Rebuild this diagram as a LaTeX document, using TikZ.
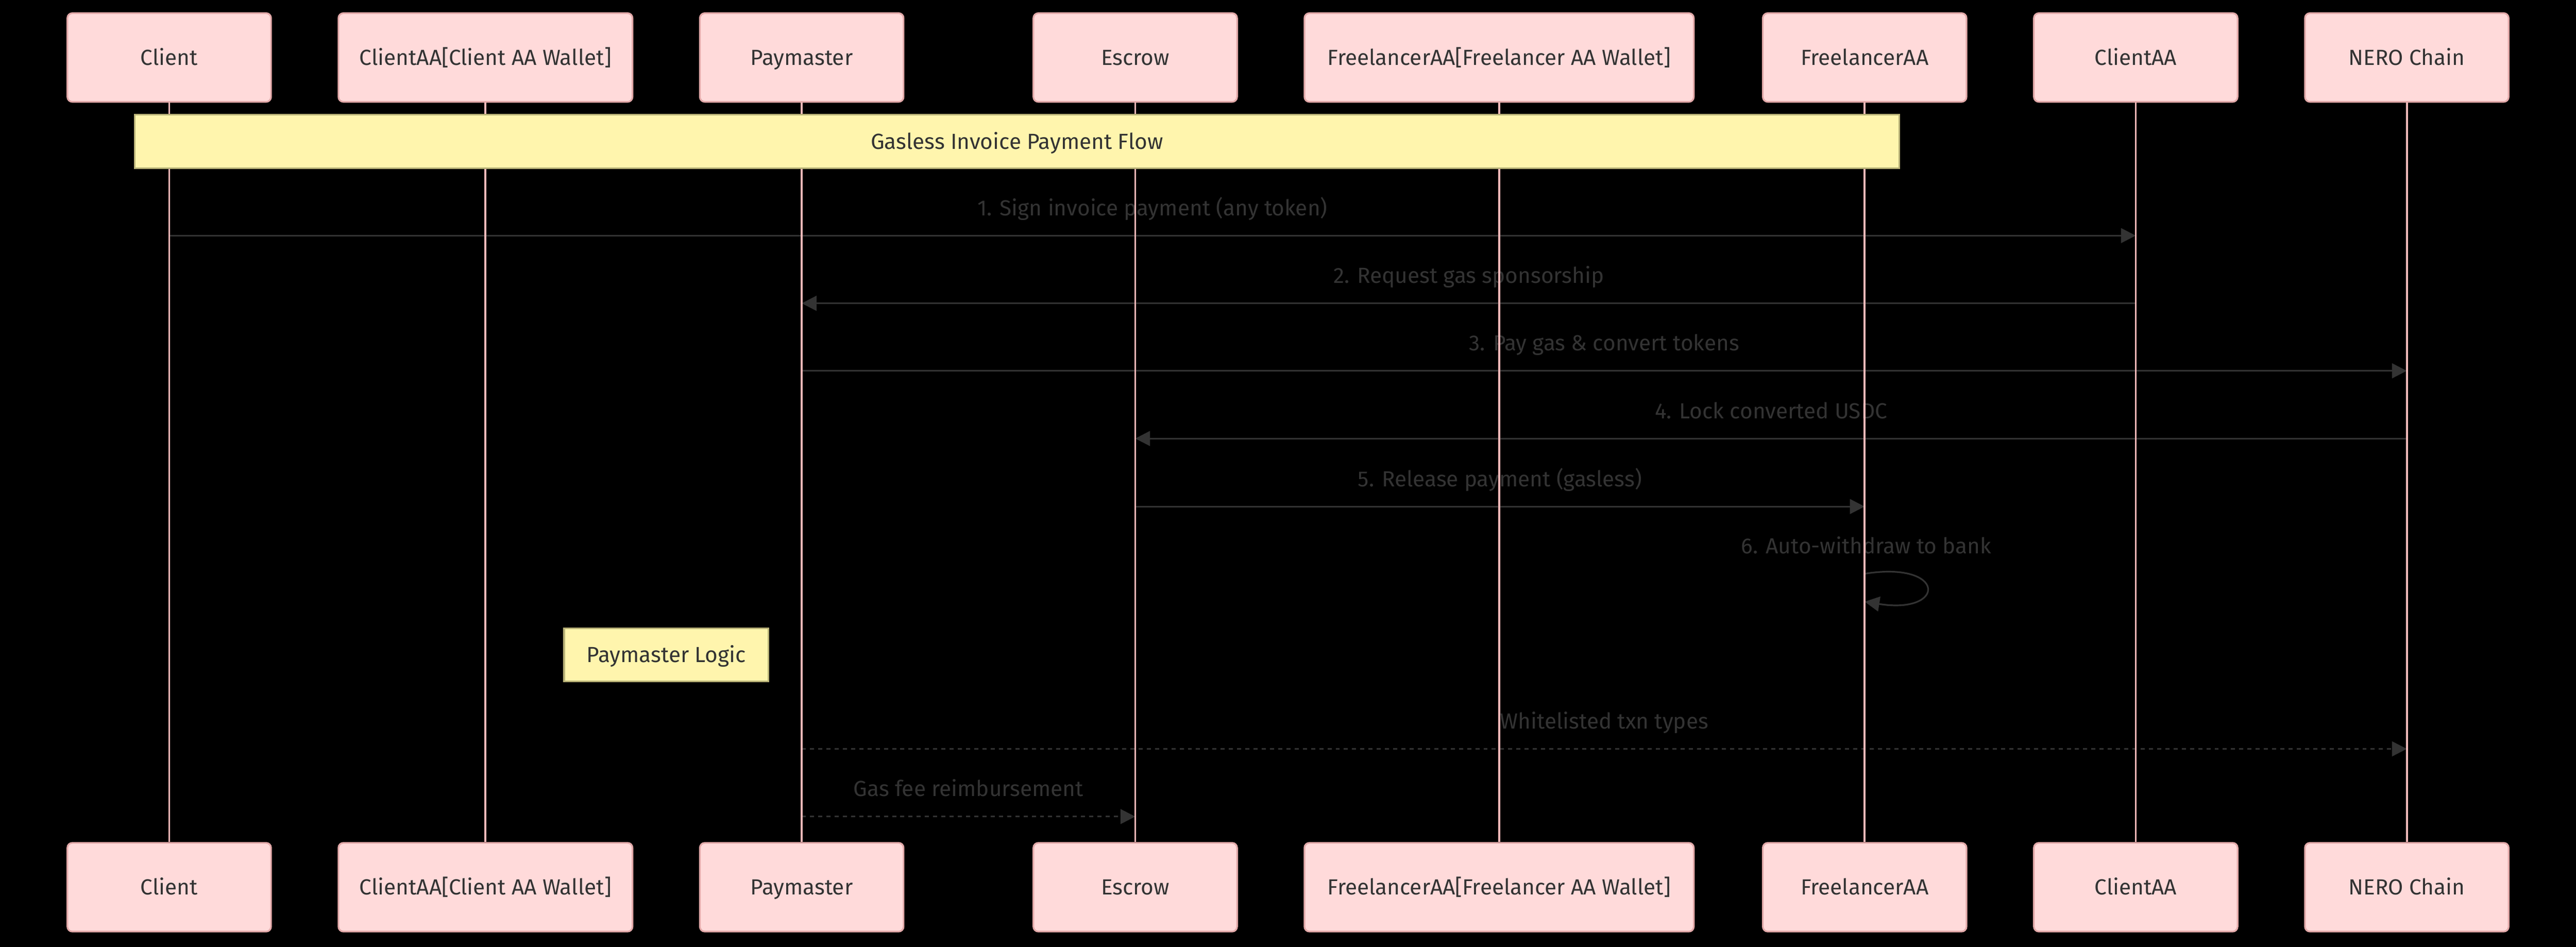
\documentclass[tikz,border=0pt]{standalone}
\usepackage{fontspec}
\setmainfont{Fira Sans}
\usetikzlibrary{arrows.meta}
\definecolor{actfill}{HTML}{FFDADA}
\definecolor{actborder}{HTML}{E3A9A9}
\definecolor{lifec}{HTML}{F2B9B9}
\definecolor{msgc}{HTML}{333333}
\definecolor{txt}{HTML}{333333}
\definecolor{notefill}{HTML}{FFF5AD}
\definecolor{noteborder}{HTML}{B9B277}
\newcommand{\fsz}{\fontsize{13.3}{15}\selectfont}
\begin{document}
\begin{tikzpicture}[x=1pt,y=-1pt,
  actor/.style={draw=actborder, fill=actfill, line width=1pt, rounded corners=3pt,
    minimum height=54pt, inner sep=0pt, text height=9.2pt, text depth=0pt, text=txt, font=\fsz},
  life/.style={draw=lifec, line width=1.2pt},
  msg/.style={draw=msgc, line width=1pt, -{Triangle[length=9pt,width=9pt]}},
  dmsg/.style={msg, dash pattern=on 2.5pt off 2.5pt},
  lbl/.style={text=msgc, anchor=base, inner sep=0pt, font=\fsz},
  notebox/.style={draw=noteborder, fill=notefill, line width=1pt, inner sep=0pt,
    minimum height=32.5pt, text height=9.2pt, text depth=0pt, text=txt, font=\fsz}
]
\fill[black] (0,0) rectangle (1568,576.25);
\useasboundingbox (0,0) rectangle (1568,576.25);

% actors top
\node[actor, minimum width=124pt] (cT) at (103,35) {Client};
\node[actor, minimum width=179pt] (cwT) at (295.5,35) {ClientAA[Client AA Wallet]};
\node[actor, minimum width=124pt] (pT) at (488,35) {Paymaster};
\node[actor, minimum width=124pt] (eT) at (691,35) {Escrow};
\node[actor, minimum width=237pt] (fwT) at (912.5,35) {FreelancerAA[Freelancer AA Wallet]};
\node[actor, minimum width=124pt] (fT) at (1135,35) {FreelancerAA};
\node[actor, minimum width=124pt] (caT) at (1300,35) {ClientAA};
\node[actor, minimum width=124pt] (nT) at (1465,35) {NERO Chain};
% actors bottom
\node[actor, minimum width=124pt] (cB) at (103,540) {Client};
\node[actor, minimum width=179pt] (cwB) at (295.5,540) {ClientAA[Client AA Wallet]};
\node[actor, minimum width=124pt] (pB) at (488,540) {Paymaster};
\node[actor, minimum width=124pt] (eB) at (691,540) {Escrow};
\node[actor, minimum width=237pt] (fwB) at (912.5,540) {FreelancerAA[Freelancer AA Wallet]};
\node[actor, minimum width=124pt] (fB) at (1135,540) {FreelancerAA};
\node[actor, minimum width=124pt] (caB) at (1300,540) {ClientAA};
\node[actor, minimum width=124pt] (nB) at (1465,540) {NERO Chain};

% message rows
\coordinate (m1) at (0,143.4);
\coordinate (m2) at (0,184.6);
\coordinate (m3) at (0,225.7);
\coordinate (m4) at (0,266.9);
\coordinate (m5) at (0,308.3);
\coordinate (m6) at (0,349.2);
\coordinate (m7) at (0,455.8);
\coordinate (m8) at (0,497.0);

% messages
\draw[msg] (cT.south |- m1) -- (caT.south |- m1);
\node[lbl] (l1) at (701.5,131.2) {1. Sign invoice payment (any token)};
\draw[msg] (caT.south |- m2) -- (pT.south |- m2);
\node[lbl] (l2) at (894,172.4) {2. Request gas sponsorship};
\draw[msg] (pT.south |- m3) -- (nT.south |- m3);
\node[lbl] (l3) at (976.5,213.5) {3. Pay gas \& convert tokens};
\draw[msg] (nT.south |- m4) -- (eT.south |- m4);
\node[lbl] (l4) at (1078,254.7) {4. Lock converted USDC};
\draw[msg] (eT.south |- m5) -- (fT.south |- m5);
\node[lbl] (l5) at (913,296.1) {5. Release payment (gasless)};
\coordinate (s6a) at (fT.south |- m6);
\coordinate (s6b) at ([yshift=-17pt]s6a);
\draw[msg] (s6a) .. controls ([xshift=50pt,yshift=8pt]s6a) and ([xshift=50pt,yshift=-25pt]s6a) .. (s6b);
\node[lbl] (l6) at (1136,337.0) {6. Auto-withdraw to bank};
\draw[dmsg] (pT.south |- m7) -- (nT.south |- m7);
\node[lbl] (l7) at (976.5,443.6) {Whitelisted txn types};
\draw[dmsg] (pT.south |- m8) -- (eT.south |- m8);
\node[lbl] (l8) at (589.5,484.8) {Gas fee reimbursement};

% lifelines
\foreach \a in {c,cw,p,e,fw,f,ca,n}{
  \draw[life] (\a T.south) -- (\a B.north);
}

% notes
\node[notebox, minimum width=1074pt] (n1) at (619,86.1) {Gasless Invoice Payment Flow};
\node[notebox, minimum width=124.4pt] (n2) at (405.6,398.6) {Paymaster Logic};
\end{tikzpicture}
\end{document}
